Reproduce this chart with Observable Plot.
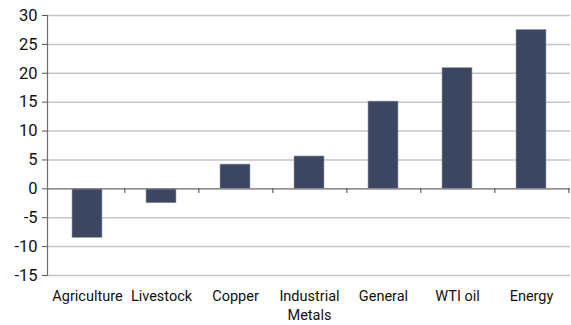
<!DOCTYPE html>
<html>
<head>
<meta charset="utf-8">
<script src="https://cdn.jsdelivr.net/npm/d3@7"></script>
<script src="https://cdn.jsdelivr.net/npm/@observablehq/plot@0.6"></script>
<style>
  html, body { margin: 0; padding: 0; background: #fff; }
  #chart svg { display: block; }
</style>
</head>
<body>
<div id="chart"></div>
<script>
// Commodity categories and their values
const categories = ["Agriculture", "Livestock", "Copper", "Industrial\nMetals", "General", "WTI oil", "Energy"];
const values = [-8.5, -2.5, 4.2, 5.6, 15.1, 20.9, 27.5];
const yTicks = [-15, -10, -5, 0, 5, 10, 15, 20, 25, 30];

const data = categories.map((c, i) => ({category: c, value: values[i]}));

const width = 571, height = 325;
const marginLeft = 47, marginRight = 1, marginTop = 15, marginBottom = 50;
const step = (width - marginLeft - marginRight) / categories.length;

const chart = Plot.plot({
  width, height,
  marginLeft, marginRight, marginTop, marginBottom,
  style: {fontFamily: "Roboto, sans-serif", color: "#111"},
  x: {domain: categories, paddingInner: 0.6, paddingOuter: 0.3, label: null},
  y: {domain: [-15, 30], label: null},
  marks: [
    Plot.gridY(yTicks, {stroke: "#c4c4c4", strokeOpacity: 1, strokeWidth: 1.5}),
    Plot.barY(data, {x: "category", y: "value", fill: "#3c4660", stroke: "#9aa1b2", strokeWidth: 0.6}),
    Plot.ruleY([0], {stroke: "#808080", strokeWidth: 1.2}),
    // category separator ticks hanging below the zero line
    Plot.ruleX(categories, {x: d => d, y1: 0, y2: -0.8, dx: step / 2, stroke: "#444", strokeWidth: 1}),
    Plot.frame({anchor: "left", stroke: "#6e6e6e", strokeWidth: 1.2}),
    Plot.axisY(yTicks, {tickSize: 5, tickPadding: 5, tickFormat: d => String(d), label: null, fontSize: 16.5, fill: "#111", stroke: "#555"}),
    Plot.axisX({anchor: "bottom", tickSize: 0, tickPadding: 12, label: null, fontSize: 14.5, fill: "#111", lineHeight: 1.3})
  ]
});

document.getElementById("chart").appendChild(chart);
</script>
</body>
</html>
